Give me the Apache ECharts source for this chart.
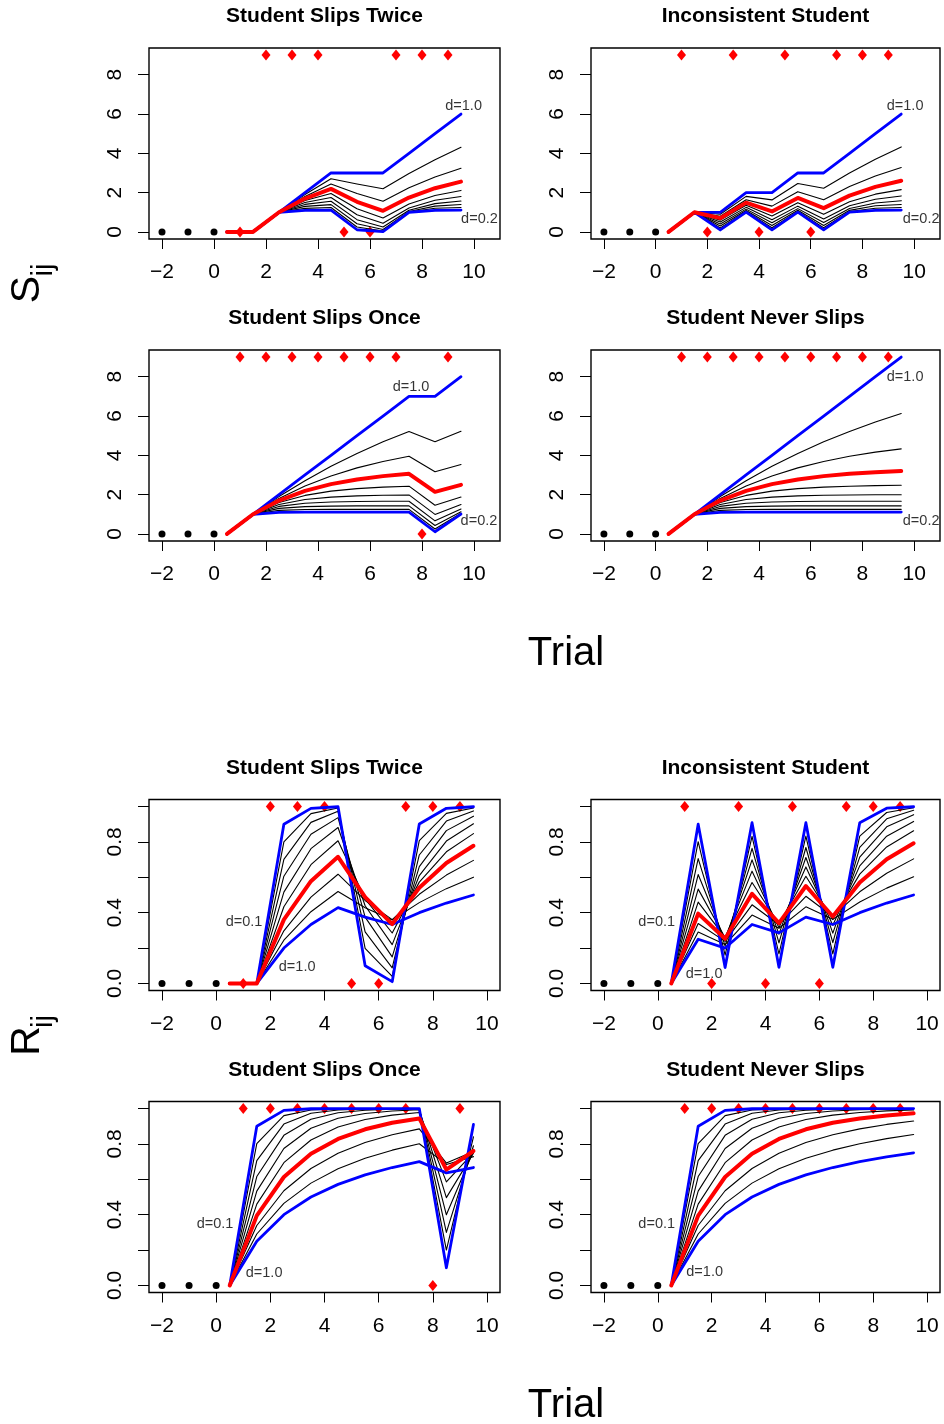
<!DOCTYPE html>
<html><head><meta charset="utf-8">
<script src="https://cdn.jsdelivr.net/npm/echarts@6/dist/echarts.min.js"></script>
<style>html,body{margin:0;padding:0;background:#fff}#c{width:944px;height:1424px}</style>
</head><body><div id="c"></div>
<script>
// ---------- data ----------
const trialX = [0.5,1.5,2.5,3.5,4.5,5.5,6.5,7.5,8.5,9.5];
const dValues = [0.1,0.2,0.3,0.4,0.5,0.6,0.7,0.8,0.9,1.0];
const priorTrials = [-2,-1,0];
const trialNumbers = [1,2,3,4,5,6,7,8,9];
const outcomesSlipsTwice = [0,1,1,1,0,0,1,1,1];
const outcomesInconsistent = [1,0,1,0,1,0,1,1,1];
const outcomesSlipsOnce = [1,1,1,1,1,1,1,0,1];
const outcomesNeverSlips = [1,1,1,1,1,1,1,1,1];
const xTicks = [-2,0,2,4,6,8,10];
const sTicks = [0,2,4,6,8];
const rTicks = [0,0.2,0.4,0.6,0.8,1.0];
const rTickLabels = [0,0.4,0.8];

// S_ij rows: d = 0.1 ... 1.0
const S_slipsTwice = [
 [0,0,1,1.1,1.11,0.111,0.0111,1.0011,1.1001,1.11],
 [0,0,1,1.2,1.24,0.248,0.0496,1.0099,1.202,1.2404],
 [0,0,1,1.3,1.39,0.417,0.1251,1.0375,1.3113,1.3934],
 [0,0,1,1.4,1.56,0.624,0.2496,1.0998,1.4399,1.576],
 [0,0,1,1.5,1.75,0.875,0.4375,1.2188,1.6094,1.8047],
 [0,0,1,1.6,1.96,1.176,0.7056,1.4234,1.854,2.1124],
 [0,0,1,1.7,2.19,1.533,1.0731,1.7512,2.2258,2.5581],
 [0,0,1,1.8,2.44,1.952,1.5616,2.2493,2.7994,3.2395],
 [0,0,1,1.9,2.71,2.439,2.1951,2.9756,3.678,4.3102],
 [0,0,1,2,3,3,3,4,5,6]
];
const S_inconsistent = [
 [0,1,0.1,1.01,0.101,1.0101,0.101,1.0101,1.101,1.1101],
 [0,1,0.2,1.04,0.208,1.0416,0.2083,1.0417,1.2083,1.2417],
 [0,1,0.3,1.09,0.327,1.0981,0.3294,1.0988,1.3297,1.3989],
 [0,1,0.4,1.16,0.464,1.1856,0.4742,1.1897,1.4759,1.5904],
 [0,1,0.5,1.25,0.625,1.3125,0.6563,1.3281,1.6641,1.832],
 [0,1,0.6,1.36,0.816,1.4896,0.8938,1.5363,1.9218,2.1531],
 [0,1,0.7,1.49,1.043,1.7301,1.2111,1.8478,2.2934,2.6054],
 [0,1,0.8,1.64,1.312,2.0496,1.6397,2.3117,2.8494,3.2795],
 [0,1,0.9,1.81,1.629,2.4661,2.2195,2.9975,3.6978,4.328],
 [0,1,1,2,2,3,3,4,5,6]
];
const S_slipsOnce = [
 [0,1,1.1,1.11,1.111,1.1111,1.1111,1.1111,0.1111,1.0111],
 [0,1,1.2,1.24,1.248,1.2496,1.2499,1.25,0.25,1.05],
 [0,1,1.3,1.39,1.417,1.4251,1.4275,1.4283,0.4285,1.1285],
 [0,1,1.4,1.56,1.624,1.6496,1.6598,1.6639,0.6656,1.2662],
 [0,1,1.5,1.75,1.875,1.9375,1.9688,1.9844,0.9922,1.4961],
 [0,1,1.6,1.96,2.176,2.3056,2.3834,2.43,1.458,1.8748],
 [0,1,1.7,2.19,2.533,2.7731,2.9412,3.0588,2.1412,2.4988],
 [0,1,1.8,2.44,2.952,3.3616,3.6893,3.9514,3.1611,3.5289],
 [0,1,1.9,2.71,3.439,4.0951,4.6856,5.217,4.6953,5.2258],
 [0,1,2,3,4,5,6,7,7,8]
];
const S_neverSlips = [
 [0,1,1.1,1.11,1.111,1.1111,1.1111,1.1111,1.1111,1.1111],
 [0,1,1.2,1.24,1.248,1.2496,1.2499,1.25,1.25,1.25],
 [0,1,1.3,1.39,1.417,1.4251,1.4275,1.4283,1.4285,1.4285],
 [0,1,1.4,1.56,1.624,1.6496,1.6598,1.6639,1.6656,1.6662],
 [0,1,1.5,1.75,1.875,1.9375,1.9688,1.9844,1.9922,1.9961],
 [0,1,1.6,1.96,2.176,2.3056,2.3834,2.43,2.458,2.4748],
 [0,1,1.7,2.19,2.533,2.7731,2.9412,3.0588,3.1412,3.1988],
 [0,1,1.8,2.44,2.952,3.3616,3.6893,3.9514,4.1611,4.3289],
 [0,1,1.9,2.71,3.439,4.0951,4.6856,5.217,5.6953,6.1258],
 [0,1,2,3,4,5,6,7,8,9]
];
// R_ij rows: d = 0.1 ... 1.0
const R_slipsTwice = [
 [0,0,0.9,0.99,0.999,0.0999,0.01,0.901,0.9901,0.999],
 [0,0,0.8003,0.9601,0.992,0.1984,0.0397,0.8079,0.9616,0.9923],
 [0,0,0.7017,0.9107,0.9732,0.2919,0.0876,0.7263,0.9179,0.9754],
 [0,0,0.6062,0.8435,0.9375,0.3746,0.1498,0.66,0.864,0.9456],
 [0,0,0.5161,0.7619,0.8819,0.4392,0.2192,0.61,0.8051,0.9026],
 [0,0,0.4337,0.6713,0.8066,0.4784,0.2851,0.5728,0.7443,0.8468],
 [0,0,0.3606,0.578,0.716,0.488,0.3355,0.5406,0.6812,0.7782],
 [0,0,0.2975,0.4879,0.6175,0.4691,0.3607,0.504,0.6125,0.6957],
 [0,0,0.2442,0.4055,0.5195,0.4282,0.3583,0.4569,0.536,0.6007],
 [0,0,0.2,0.3333,0.4286,0.375,0.3333,0.4,0.4545,0.5]
];
const R_inconsistent = [
 [0,0.9001,0.09,0.909,0.0909,0.9091,0.0909,0.9091,0.9909,0.9991],
 [0,0.8013,0.16,0.8321,0.1664,0.8333,0.1667,0.8333,0.9667,0.9933],
 [0,0.7057,0.2105,0.7636,0.2289,0.7687,0.2306,0.7692,0.9308,0.9792],
 [0,0.6158,0.2425,0.6989,0.2789,0.7118,0.2846,0.7139,0.8856,0.9542],
 [0,0.5333,0.2581,0.6349,0.315,0.6588,0.3288,0.6647,0.8324,0.9162],
 [0,0.4596,0.2602,0.5706,0.3358,0.606,0.3611,0.6182,0.7715,0.8631],
 [0,0.3948,0.2524,0.5066,0.341,0.5508,0.3786,0.5704,0.7019,0.7926],
 [0,0.3388,0.238,0.4445,0.332,0.4926,0.3788,0.518,0.6234,0.7043],
 [0,0.2908,0.2198,0.3863,0.3122,0.433,0.3623,0.4602,0.5389,0.6032],
 [0,0.25,0.2,0.3333,0.2857,0.375,0.3333,0.4,0.4545,0.5]
];
const R_slipsOnce = [
 [0,0.9001,0.99,0.999,0.9999,1,1,1,0.1,0.91],
 [0,0.8013,0.9603,0.9921,0.9984,0.9997,0.9999,1,0.2,0.84],
 [0,0.7057,0.9122,0.9737,0.9921,0.9976,0.9993,0.9998,0.3,0.79],
 [0,0.6158,0.8487,0.9398,0.976,0.9904,0.9962,0.9985,0.3994,0.7597],
 [0,0.5333,0.7742,0.8889,0.9449,0.9725,0.9863,0.9932,0.4963,0.7482],
 [0,0.4596,0.694,0.8224,0.8955,0.938,0.9631,0.9779,0.5853,0.7516],
 [0,0.3948,0.613,0.7446,0.8281,0.8828,0.9195,0.9443,0.6553,0.7602],
 [0,0.3388,0.5355,0.6614,0.7471,0.8079,0.8522,0.8853,0.6916,0.7579],
 [0,0.2908,0.464,0.5784,0.6592,0.719,0.7649,0.801,0.6843,0.7283],
 [0,0.25,0.4,0.5,0.5714,0.625,0.6667,0.7,0.6364,0.6667]
];
const R_neverSlips = [
 [0,0.9001,0.99,0.999,0.9999,1,1,1,1,1],
 [0,0.8013,0.9603,0.9921,0.9984,0.9997,0.9999,1,1,1],
 [0,0.7057,0.9122,0.9737,0.9921,0.9976,0.9993,0.9998,0.9999,1],
 [0,0.6158,0.8487,0.9398,0.976,0.9904,0.9962,0.9985,0.9994,0.9998],
 [0,0.5333,0.7742,0.8889,0.9449,0.9725,0.9863,0.9932,0.9966,0.9983],
 [0,0.4596,0.694,0.8224,0.8955,0.938,0.9631,0.9779,0.9868,0.9921],
 [0,0.3948,0.613,0.7446,0.8281,0.8828,0.9195,0.9443,0.9614,0.9731],
 [0,0.3388,0.5355,0.6614,0.7471,0.8079,0.8522,0.8853,0.9104,0.9297],
 [0,0.2908,0.464,0.5784,0.6592,0.719,0.7649,0.801,0.83,0.8537],
 [0,0.25,0.4,0.5,0.5714,0.625,0.6667,0.7,0.7273,0.75]
];
const panelTitles = ['Student Slips Twice','Inconsistent Student','Student Slips Once','Student Never Slips',
                     'Student Slips Twice','Inconsistent Student','Student Slips Once','Student Never Slips'];
// curve annotations [text, x, y] in data units
const notesS_twice = [['d=1.0',9.6,6.43],['d=0.2',10.21,0.65]];
const notesS_incons = [['d=1.0',9.65,6.43],['d=0.2',10.27,0.65]];
const notesS_once = [['d=1.0',7.58,7.49],['d=0.2',10.19,0.65]];
const notesS_never = [['d=1.0',9.65,8.0],['d=0.2',10.27,0.65]];
const notesR_twice = [['d=0.1',1.03,0.345],['d=1.0',2.99,0.095]];
const notesR_incons = [['d=0.1',-0.04,0.345],['d=1.0',1.72,0.055]];
const notesR_once = [['d=0.1',-0.04,0.35],['d=1.0',1.77,0.072]];
const notesR_never = [['d=0.1',-0.04,0.35],['d=1.0',1.74,0.075]];

// ---------- chart ----------
const FONT = "'Liberation Sans', Arial, Helvetica, sans-serif";
const panels = [
 {vals:S_slipsTwice, out:outcomesSlipsTwice, kind:'S', notes:notesS_twice},
 {vals:S_inconsistent, out:outcomesInconsistent, kind:'S', notes:notesS_incons},
 {vals:S_slipsOnce, out:outcomesSlipsOnce, kind:'S', notes:notesS_once},
 {vals:S_neverSlips, out:outcomesNeverSlips, kind:'S', notes:notesS_never},
 {vals:R_slipsTwice, out:outcomesSlipsTwice, kind:'R', notes:notesR_twice},
 {vals:R_inconsistent, out:outcomesInconsistent, kind:'R', notes:notesR_incons},
 {vals:R_slipsOnce, out:outcomesSlipsOnce, kind:'R', notes:notesR_once},
 {vals:R_neverSlips, out:outcomesNeverSlips, kind:'R', notes:notesR_never}
];
const colLeft = [149, 591], colWidth = [351, 349];
const rowTop = [48, 350, 799.5, 1101.5], boxH = 191;

const grid = [], xAxis = [], yAxis = [], series = [], graphic = [];
const minusFmt = v => (v < 0 ? '\u2212' + Math.abs(v) : String(v));

panels.forEach((p, i) => {
  const col = i % 2, row = Math.floor(i / 2);
  const isS = p.kind === 'S';
  grid.push({left: colLeft[col], top: rowTop[row], width: colWidth[col], height: boxH,
    show: true, borderColor: '#000', borderWidth: 1.4, backgroundColor: 'transparent', containLabel: false});
  xAxis.push({gridIndex: i, type: 'value', position: 'bottom', min: isS ? -2.5 : -2.48, max: isS ? 11 : 10.48,
    axisLine: {show: false, onZero: false}, splitLine: {show: false},
    axisTick: {show: true, length: 10, customValues: xTicks, lineStyle: {color: '#000', width: 1}},
    axisLabel: {customValues: xTicks, formatter: minusFmt, fontSize: 21, color: '#000', fontFamily: FONT, margin: 23}});
  yAxis.push({gridIndex: i, type: 'value', position: 'left', min: isS ? -0.36 : -0.04, max: isS ? 9.36 : 1.04,
    axisLine: {show: false, onZero: false}, splitLine: {show: false},
    axisTick: {show: true, length: 11, customValues: isS ? sTicks : rTicks, lineStyle: {color: '#000', width: 1}},
    axisLabel: {customValues: isS ? sTicks : rTickLabels, rotate: 90, fontSize: 21, color: '#000', fontFamily: FONT, margin: 23,
      formatter: v => isS ? String(v) : v.toFixed(1)}});
  // title
  graphic.push({type: 'text', x: colLeft[col] + colWidth[col] / 2, y: rowTop[row] - 31.5,
    style: {text: panelTitles[i], font: 'bold 21px ' + FONT, fill: '#000', align: 'center', verticalAlign: 'middle'}, silent: true});
  // curves: black first, then blue, then red
  const order = [1,2,3,4,5,7,8,0,9,6];
  order.forEach(k => {
    const blue = (k === 0 || k === 9), red = (k === 6);
    series.push({type: 'line', xAxisIndex: i, yAxisIndex: i, name: 'd=' + dValues[k].toFixed(1),
      data: trialX.map((x, j) => [x, p.vals[k][j]]),
      symbol: 'none', animation: false, silent: true,
      lineStyle: {color: blue ? '#0000ff' : red ? '#ff0000' : '#000', width: blue ? 2.8 : red ? 4 : 1.1, join: 'round', cap: 'round'}});
  });
  const top = isS ? 9 : 1;
  series.push({type: 'scatter', xAxisIndex: i, yAxisIndex: i, symbol: 'diamond', symbolSize: [9, 11],
    itemStyle: {color: '#ff0000', opacity: 1}, animation: false, silent: true,
    data: trialNumbers.map((t, k) => [t, p.out[k] ? top : 0])});
  series.push({type: 'scatter', xAxisIndex: i, yAxisIndex: i, symbol: 'circle', symbolSize: 7,
    itemStyle: {color: '#000', opacity: 1}, animation: false, silent: true,
    data: priorTrials.map(t => [t, 0])});
  series.push({type: 'scatter', xAxisIndex: i, yAxisIndex: i, symbolSize: 0.01, itemStyle: {color: 'rgba(0,0,0,0)'},
    animation: false, silent: true,
    label: {show: true, position: 'inside', formatter: pr => pr.data.name, fontSize: 14.5, color: '#000', fontFamily: FONT},
    data: p.notes.map(n => ({name: n[0], value: [n[1], n[2]]}))});
});

// axis titles
[[0, 'S'], [751.5, 'R']].forEach(([dy, letter]) => {
  graphic.push({type: 'text', x: 28, y: 289.5 + dy, rotation: Math.PI / 2,
    style: {text: letter, font: '41px ' + FONT, fill: '#000', align: 'center', verticalAlign: 'middle'}, silent: true});
  graphic.push({type: 'text', x: 44, y: 270 + dy, rotation: Math.PI / 2,
    style: {text: 'ij', font: '29px ' + FONT, fill: '#000', align: 'center', verticalAlign: 'middle'}, silent: true});
  graphic.push({type: 'text', x: 566, y: 654 + dy, style: {text: 'Trial', font: '40px ' + FONT, fill: '#000', align: 'center', verticalAlign: 'middle'}, silent: true});
});

const chart = echarts.init(document.getElementById('c'), null, {renderer: 'canvas'});
chart.setOption({animation: false, backgroundColor: '#fff', grid, xAxis, yAxis, series, graphic});
</script></body></html>
